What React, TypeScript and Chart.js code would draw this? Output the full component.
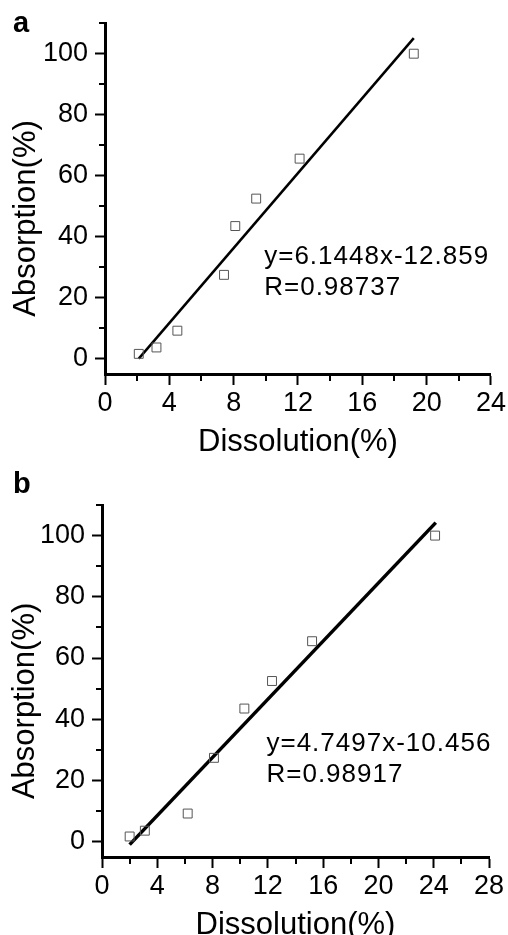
import React, { useEffect, useRef } from 'react';
import { Chart, registerables } from 'chart.js';

Chart.register(...registerables);

// ---------- Panel a ----------
const dissolutionA = [2.1, 3.2, 4.5, 7.4, 8.1, 9.4, 12.1, 19.2];
const absorptionA = [1.6, 3.7, 9.2, 27.5, 43.5, 52.5, 65.6, 100];
const slopeA = 6.1448;
const interceptA = -12.859;
const fitRangeA = [2.1, 19.2];
const equationA = ['y=6.1448x-12.859', 'R=0.98737'];
const xMaxA = 24;

// ---------- Panel b ----------
const dissolutionB = [2.0, 3.1, 6.2, 8.1, 10.3, 12.3, 15.2, 24.1];
const absorptionB = [1.7, 3.6, 9.2, 27.4, 43.5, 52.5, 65.5, 100];
const slopeB = 4.7497;
const interceptB = -10.456;
const fitRangeB = [2.0, 24.15];
const equationB = ['y=4.7497x-10.456', 'R=0.98917'];
const xMaxB = 28;

// ---------- shared axes ----------
const xMajorStep = 4;
const xMinorStep = 2;
const yMin = -5;
const yMax = 110;
const yMajorStep = 20;
const yMinorStep = 10;
const xTitle = 'Dissolution(%)';
const yTitle = 'Absorption(%)';

const FONT = "'Liberation Sans', Arial, Helvetica, sans-serif";

type PanelProps = {
  label: string;
  xs: number[];
  ys: number[];
  slope: number;
  intercept: number;
  fitRange: number[];
  equation: string[];
  eqAt: number[];
  xMax: number;
  lineWidth: number;
  width: number;
  height: number;
  padTop: number;
  padRight: number;
  yAxisWidth: number;
  xAxisHeight: number;
  titlePadBottom: number;
  labelBaseline: number;
  yTitleX: number;
  yTitleCenterValue: number;
};

function Panel(p: PanelProps) {
  const ref = useRef<HTMLCanvasElement | null>(null);

  useEffect(() => {
    const canvas = ref.current;
    if (!canvas) return;

    const points = p.xs.map((x, i) => ({ x, y: p.ys[i] }));
    const fit = p.fitRange.map((x) => ({ x, y: p.slope * x + p.intercept }));

    const decor = {
      id: 'decor' + p.label,
      afterDraw(chart: any) {
        const ctx = chart.ctx as CanvasRenderingContext2D;
        const xs = chart.scales.x;
        const ys = chart.scales.y;
        const area = chart.chartArea;
        ctx.save();
        // minor ticks
        ctx.strokeStyle = '#000';
        ctx.lineWidth = 2;
        ctx.beginPath();
        for (let v = xs.min; v <= xs.max + 1e-9; v += xMinorStep) {
          if (Math.abs(v % xMajorStep) < 1e-9) continue;
          const px = Math.round(xs.getPixelForValue(v));
          ctx.moveTo(px, area.bottom);
          ctx.lineTo(px, area.bottom + 7);
        }
        for (let v = yMinorStep; v <= ys.max + 1e-9; v += yMinorStep) {
          if (Math.abs(v % yMajorStep) < 1e-9) continue;
          const py = Math.round(ys.getPixelForValue(v));
          ctx.moveTo(area.left - 6, py);
          ctx.lineTo(area.left, py);
        }
        ctx.stroke();

        // y axis title
        ctx.fillStyle = '#000';
        ctx.font = `31px ${FONT}`;
        ctx.textAlign = 'center';
        ctx.textBaseline = 'middle';
        ctx.translate(p.yTitleX, ys.getPixelForValue(p.yTitleCenterValue));
        ctx.rotate(-Math.PI / 2);
        ctx.fillText(yTitle, 0, 0);
        ctx.restore();

        // equation text
        ctx.save();
        ctx.fillStyle = '#000';
        ctx.font = `26px ${FONT}`;
        (ctx as any).letterSpacing = '1px';
        ctx.textAlign = 'left';
        ctx.textBaseline = 'alphabetic';
        const ex = xs.getPixelForValue(p.eqAt[0]);
        const ey = ys.getPixelForValue(p.eqAt[1]);
        p.equation.forEach((t, i) => ctx.fillText(t, ex, ey + i * 31));
        ctx.restore();

        // panel label
        ctx.save();
        ctx.fillStyle = '#000';
        ctx.font = `bold 29px ${FONT}`;
        ctx.textAlign = 'left';
        ctx.textBaseline = 'alphabetic';
        ctx.fillText(p.label, 13, p.labelBaseline);
        ctx.restore();
      },
    };

    const chart = new Chart(canvas, {
      type: 'scatter',
      data: {
        datasets: [
          {
            type: 'scatter',
            data: points,
            pointStyle: 'rect',
            pointRadius: 6.3,
            pointHoverRadius: 6.3,
            borderColor: '#555',
            backgroundColor: 'rgba(0,0,0,0)',
            borderWidth: 1,
          } as any,
          {
            type: 'line',
            data: fit,
            borderColor: '#000',
            borderWidth: p.lineWidth,
            pointRadius: 0,
            fill: false,
            tension: 0,
          } as any,
        ],
      },
      options: {
        responsive: false,
        animation: false,
        devicePixelRatio: 1,
        layout: { padding: { left: 0, top: p.padTop, right: p.padRight, bottom: 0 } },
        plugins: { legend: { display: false }, tooltip: { enabled: false } },
        scales: {
          x: {
            type: 'linear',
            min: 0,
            max: p.xMax,
            afterFit: (s: any) => {
              s.height = p.xAxisHeight;
            },
            ticks: {
              stepSize: xMajorStep,
              autoSkip: false,
              maxRotation: 0,
              color: '#000',
              padding: 2,
              font: { family: FONT, size: 27 },
            },
            grid: {
              drawOnChartArea: false,
              drawTicks: true,
              tickLength: 11,
              tickWidth: 2,
              tickColor: '#000',
            },
            border: { display: true, color: '#000', width: 3 },
            title: {
              display: true,
              text: xTitle,
              color: '#000',
              font: { family: FONT, size: 31 },
              padding: { top: 0, bottom: p.titlePadBottom },
            },
          },
          y: {
            type: 'linear',
            min: yMin,
            max: yMax,
            afterFit: (s: any) => {
              s.width = p.yAxisWidth;
            },
            ticks: {
              stepSize: yMajorStep,
              includeBounds: false,
              autoSkip: false,
              color: '#000',
              padding: 7,
              font: { family: FONT, size: 27 },
            },
            grid: {
              drawOnChartArea: false,
              drawTicks: true,
              tickLength: 10,
              tickWidth: 2,
              tickColor: '#000',
            },
            border: { display: true, color: '#000', width: 3 },
          },
        },
      } as any,
      plugins: [decor],
    });

    return () => chart.destroy();
  }, []);

  return <canvas ref={ref} width={p.width} height={p.height} style={{ display: 'block', width: p.width, height: p.height }} />;
}

export default function App() {
  return (
    <div
      style={{
        position: 'absolute',
        left: 0,
        top: 0,
        width: 508,
        height: 935,
        overflow: 'hidden',
        background: '#fff',
      }}
    >
      <Panel
        label="a"
        xs={dissolutionA}
        ys={absorptionA}
        slope={slopeA}
        intercept={interceptA}
        fitRange={fitRangeA}
        equation={equationA}
        eqAt={[9.9, 31]}
        xMax={xMaxA}
        lineWidth={2.5}
        width={508}
        height={465}
        padTop={20}
        padRight={17}
        yAxisWidth={105}
        xAxisHeight={91}
        titlePadBottom={4}
        labelBaseline={32}
        yTitleX={26}
        yTitleCenterValue={46}
      />
      <Panel
        label="b"
        xs={dissolutionB}
        ys={absorptionB}
        slope={slopeB}
        intercept={interceptB}
        fitRange={fitRangeB}
        equation={equationB}
        eqAt={[11.9, 29.5]}
        xMax={xMaxB}
        lineWidth={3.5}
        width={508}
        height={470}
        padTop={40}
        padRight={19}
        yAxisWidth={102}
        xAxisHeight={78}
        titlePadBottom={-9}
        labelBaseline={28}
        yTitleX={25}
        yTitleCenterValue={46}
      />
    </div>
  );
}
